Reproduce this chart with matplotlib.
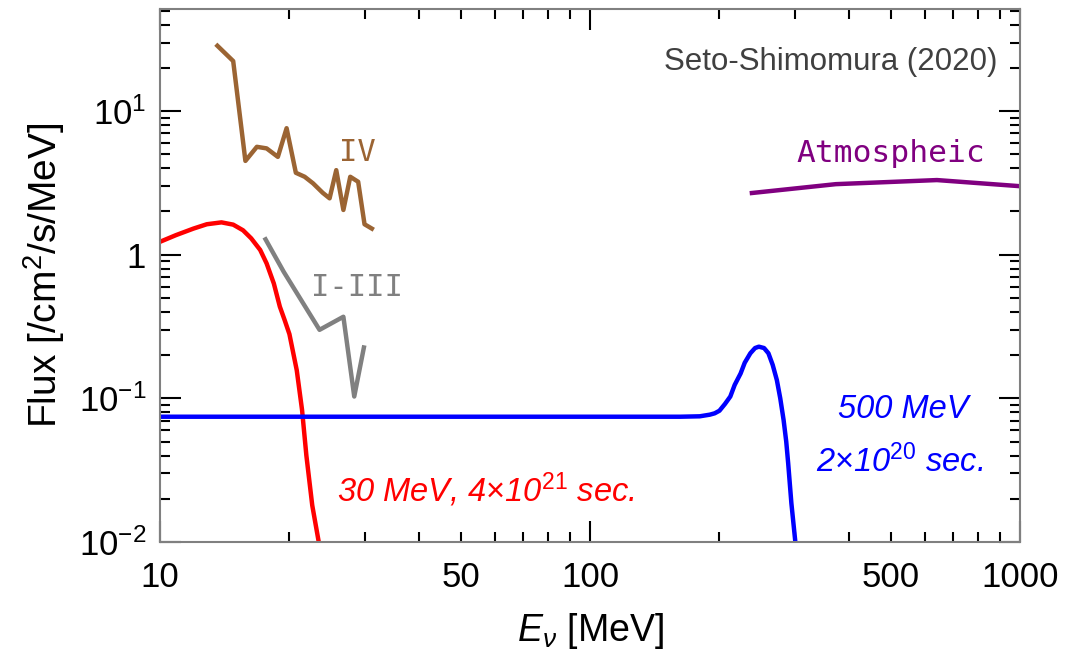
import matplotlib
matplotlib.use('Agg')
import matplotlib.pyplot as plt
import matplotlib.ticker as mticker
import numpy as np

plt.rcParams['font.family'] = ['Liberation Sans', 'DejaVu Sans']
plt.rcParams['mathtext.fontset'] = 'custom'
plt.rcParams['mathtext.rm'] = 'Liberation Sans'
plt.rcParams['mathtext.it'] = 'Liberation Sans:italic'

# ---- data ----
# 30 MeV model, 4e21 sec
red_E = [10.0, 10.9, 11.96, 12.85, 13.9, 14.8, 15.6, 16.3, 17.1, 17.7, 18.4, 19.0, 19.5,
         20.0, 20.8, 21.4, 21.9, 22.6, 23.4, 24.2]
red_F = [1.23, 1.37, 1.52, 1.63, 1.68, 1.62, 1.48, 1.30, 1.08, 0.87, 0.63, 0.435, 0.35,
         0.28, 0.157, 0.083, 0.040, 0.018, 0.010, 0.005]

# 500 MeV model, 2e20 sec
blue_E = [10.0, 50.0, 100.0, 162.0, 180.0, 190.0, 195.0, 200.0, 206.0, 212.0, 217.0, 224.0,
          229.0, 236.0, 242.0, 247.0, 254.0, 260.0, 266.0, 272.0, 277.0, 282.0, 286.0,
          289.0, 294.0, 300.0, 306.0]
blue_F = [0.0745, 0.0745, 0.0745, 0.0745, 0.075, 0.077, 0.0787, 0.082, 0.0914, 0.103, 0.124, 0.149,
          0.177, 0.206, 0.224, 0.229, 0.224, 0.206, 0.171, 0.134, 0.100, 0.0706, 0.050,
          0.0353, 0.0186, 0.0103, 0.005]

# Super-K limits, phase IV
iv_E = [13.6, 14.8, 15.8, 16.8, 17.7, 18.8, 19.7, 20.7, 21.7, 22.7, 23.9, 24.8, 25.7, 26.7, 27.7, 28.9, 29.9, 31.1]
iv_F = [28.5, 22.3, 4.5, 5.64, 5.5, 4.8, 7.6, 3.72, 3.49, 3.14, 2.70, 2.47, 3.88, 2.05, 3.49, 3.22, 1.63, 1.52]

# Super-K limits, phases I-III
i3_E = [17.6, 19.4, 23.5, 26.7, 28.3, 29.8]
i3_F = [1.28, 0.76, 0.30, 0.37, 0.103, 0.226]

# atmospheric neutrino flux
atm_E = [238.0, 373.0, 641.0, 1000.0]
atm_F = [2.69, 3.10, 3.31, 3.00]

fig = plt.figure(figsize=(10.78, 6.53), dpi=100)
ax = fig.add_axes([0.1484, 0.170, 0.7978, 0.8155])

ax.plot(red_E, red_F, color='#ff0000', lw=3.2)
ax.plot(blue_E, blue_F, color='#0000ff', lw=3.2)
ax.plot(iv_E, iv_F, color='#9b6433', lw=3.2)
ax.plot(i3_E, i3_F, color='#808080', lw=3.2)
ax.plot(atm_E, atm_F, color='#800080', lw=3.2)

ax.set_xscale('log')
ax.set_yscale('log')
ax.set_xlim(10, 1000)
ax.set_ylim(1e-2, 51)

# ticks
ax.xaxis.set_major_locator(mticker.FixedLocator([10, 100, 1000]))
ax.xaxis.set_major_formatter(mticker.FixedFormatter(['10', '100', '1000']))
ax.xaxis.set_minor_locator(mticker.LogLocator(base=10, subs=np.arange(2, 10)))
ax.xaxis.set_minor_formatter(mticker.FuncFormatter(
    lambda v, p: '%d' % round(v) if round(v) in (50, 500) else ''))
ax.yaxis.set_major_locator(mticker.FixedLocator([1e-2, 1e-1, 1, 10]))
ax.yaxis.set_major_formatter(mticker.FixedFormatter(
    ['$10^{-2}$', '$10^{-1}$', '1', '$10^{1}$']))
ax.yaxis.set_minor_locator(mticker.LogLocator(base=10, subs=np.arange(2, 10)))
ax.yaxis.set_minor_formatter(mticker.NullFormatter())

ax.tick_params(which='both', direction='in', top=True, right=True,
               color='black', labelsize=25, width=1.5)
ax.tick_params(which='major', length=15, pad=10)
ax.tick_params(which='minor', length=7, pad=10)
ax.tick_params(axis='x', which='both', pad=14)
for s in ax.spines.values():
    s.set_color('#808080')
    s.set_linewidth(1.5)

ax.set_xlabel(r'$E_\nu$ [MeV]', fontsize=27, labelpad=12)
ax.set_ylabel(r'Flux [/cm$^2$/s/MeV]', fontsize=28, labelpad=8)

# annotations
mono = ['DejaVu Sans Mono']
ax.text(28.8, 5.19, 'IV', color='#9b6433', fontsize=22, family=mono, ha='center', va='center')
ax.text(28.7, 0.596, 'I-III', color='#808080', fontsize=22, family=mono, ha='center', va='center')
ax.text(501, 5.1, 'Atmospheic', color='#800080', fontsize=22.5, family=mono, ha='center', va='center')
ax.text(0.974, 0.901, 'Seto-Shimomura (2020)', color='#404040', fontsize=22.5,
        transform=ax.transAxes, ha='right', va='center')
ax.text(57.3, 0.023, r'30 MeV, 4$\times$10$^{21}$ sec.', color='#ff0000', fontsize=23.5,
        style='italic', ha='center', va='center')
ax.text(535, 0.083, '500 MeV', color='#0000ff', fontsize=23.5, style='italic', ha='center', va='center')
ax.text(526, 0.036, r'2$\times$10$^{20}$ sec.', color='#0000ff', fontsize=23.5,
        style='italic', ha='center', va='center')

fig.savefig('out.png', dpi=100)
